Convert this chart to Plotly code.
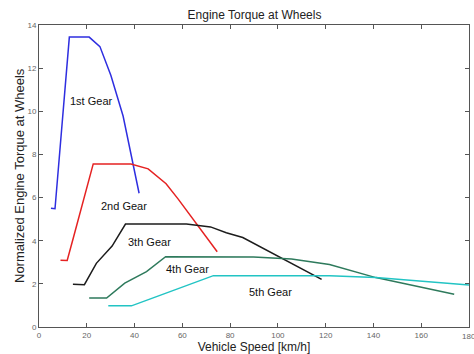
import plotly.graph_objects as go

# Data
gear1_x = [5.0, 6.7, 12.7, 21.0, 25.5, 30.1, 35.2, 41.9]
gear1_y = [5.50, 5.48, 13.44, 13.44, 13.0, 11.66, 9.78, 6.2]

gear2_x = [9.0, 11.8, 14.3, 18.5, 22.7, 38.5, 45.7, 53.2, 58.2, 74.6]
gear2_y = [3.10, 3.08, 4.10, 5.79, 7.56, 7.56, 7.33, 6.64, 5.94, 3.49]

gear3_x = [14.2, 19.0, 24.0, 30.6, 36.2, 61.7, 71.8, 78.4, 85.3, 118.3]
gear3_y = [1.98, 1.96, 2.95, 3.75, 4.77, 4.77, 4.64, 4.37, 4.15, 2.21]

gear4_x = [21.0, 28.3, 35.9, 45.0, 53.0, 89.8, 105.7, 121.6, 141.0, 173.8]
gear4_y = [1.34, 1.34, 2.03, 2.57, 3.26, 3.25, 3.15, 2.90, 2.29, 1.52]

gear5_x = [29.0, 38.7, 49.2, 63.1, 73.0, 121.6, 141.0, 180.0]
gear5_y = [0.98, 0.98, 1.41, 1.98, 2.38, 2.38, 2.30, 1.95]

labels = ["1st Gear", "2nd Gear", "3th Gear", "4th Gear", "5th Gear"]
label_x = [21.9, 35.6, 46.2, 62.1, 96.7]
label_y = [10.5, 5.59, 3.93, 2.70, 1.60]

x_ticks = [0, 20, 40, 60, 80, 100, 120, 140, 160, 180]
y_ticks = [0, 2, 4, 6, 8, 10, 12, 14]

colors = ["#2e2ee0", "#e52222", "#1c1c1c", "#2e7a5c", "#22c4c4"]
FONT = "Liberation Sans, Arial"

fig = go.Figure()
series = [(gear1_x, gear1_y), (gear2_x, gear2_y), (gear3_x, gear3_y),
          (gear4_x, gear4_y), (gear5_x, gear5_y)]
for (xs, ys), c, name in zip(series, colors, labels):
    fig.add_trace(go.Scatter(x=xs, y=ys, mode="lines", name=name,
                             line=dict(color=c, width=1.5), cliponaxis=False))

for t, lx, ly in zip(labels, label_x, label_y):
    fig.add_annotation(x=lx, y=ly, text=t, showarrow=False,
                       font=dict(family=FONT, size=11, color="#111"))

# last x tick label (cut by the page edge in the reference)
fig.add_annotation(x=x_ticks[-1], y=0, xref="x", yref="paper", yshift=-3,
                   yanchor="top", text=str(x_ticks[-1]), showarrow=False,
                   font=dict(family=FONT, size=8, color="#666"))

# y axis title
fig.add_annotation(x=0, xref="paper", y=0.5, yref="paper", xshift=-20,
                   xanchor="center", yanchor="middle",
                   text="Normalized Engine Torque at Wheels", textangle=-90,
                   showarrow=False, font=dict(family=FONT, size=13, color="#222"))

axis_common = dict(
    showgrid=False, zeroline=False, showline=True, linecolor="#555", linewidth=1,
    mirror="ticks", ticks="inside", ticklen=4, tickcolor="#555",
    tickfont=dict(family=FONT, size=8, color="#666"),
)

fig.update_layout(
    width=474, height=354,
    margin=dict(l=39, r=4, t=25, b=25),
    paper_bgcolor="white", plot_bgcolor="white",
    showlegend=False,
    title=dict(text="Engine Torque at Wheels", x=0.537, xanchor="center",
               y=0.958, yanchor="middle",
               font=dict(family=FONT, size=12, color="#222")),
    xaxis=dict(range=[0, 180], tickvals=x_ticks,
               ticktext=[str(v) for v in x_ticks[:-1]] + [""],
               title=dict(text="Vehicle Speed [km/h]", standoff=2,
                          font=dict(family=FONT, size=12, color="#222")),
               **axis_common),
    yaxis=dict(range=[0, 14], tickvals=y_ticks, **axis_common),
)

fig.write_html("out.html")
